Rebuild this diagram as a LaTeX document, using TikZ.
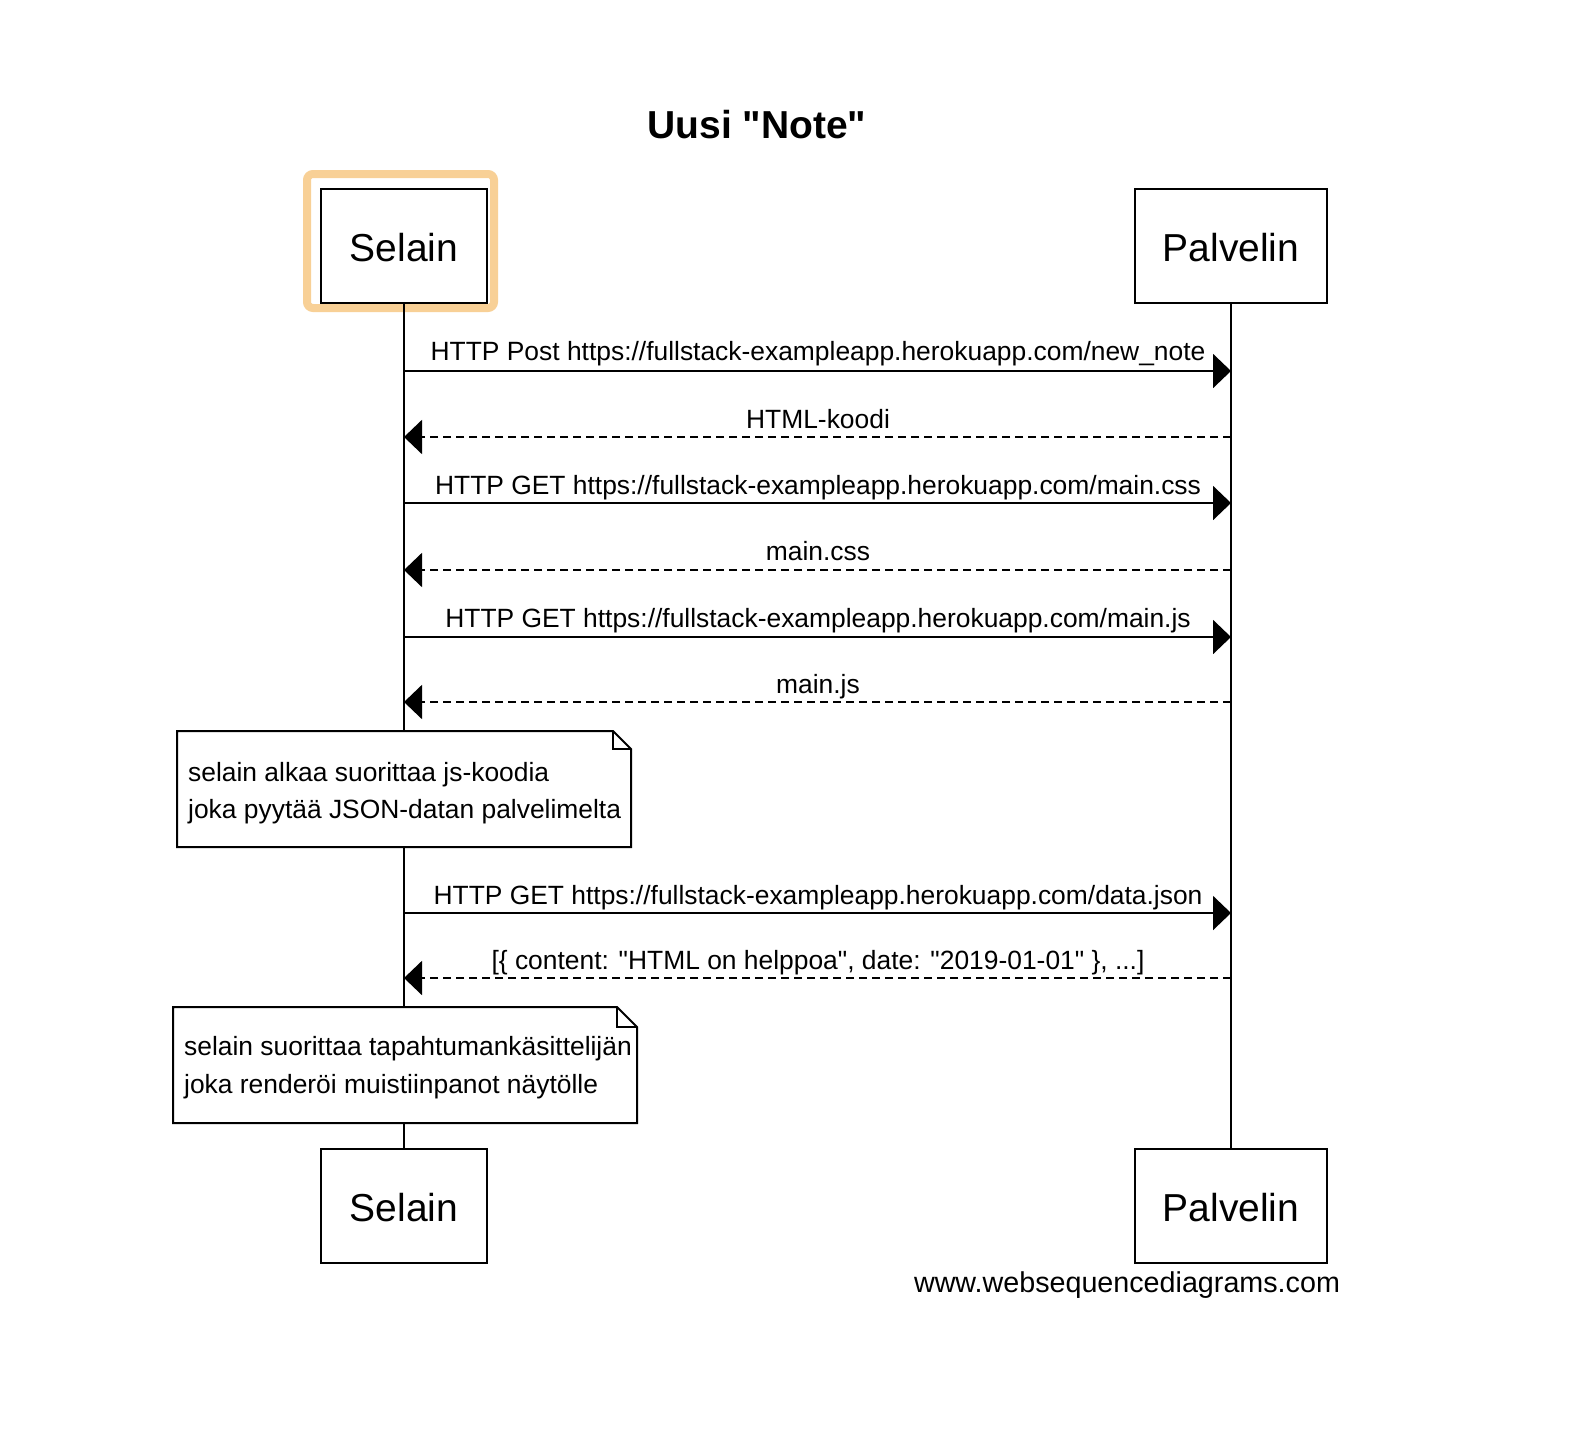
\documentclass[tikz,border=0pt]{standalone}
\usepackage{fontspec}
\setmainfont{Liberation Sans}[Ligatures=TeXOff]
\usetikzlibrary{arrows.meta}
\definecolor{hl}{RGB}{248,208,150}
\newcommand{\lowertxt}[1]{\raisebox{-2pt}[\height][\depth]{#1}}
\begin{document}
\begin{tikzpicture}[x=1pt,y=-1pt,
  party/.style={draw, line width=2pt, fill=white, minimum height=114pt, inner sep=0pt,
    font=\fontsize{39}{45}\selectfont},
  life/.style={line width=2pt},
  msg/.style={line width=2pt, -{Triangle[length=18pt,width=34pt]}},
  reply/.style={msg, dash pattern=on 8pt off 5pt},
  lbl/.style={font=\fontsize{26.4}{31}\selectfont, anchor=base, inner sep=0pt},
  notebox/.style={draw, line width=2pt, fill=white, line join=miter},
  notetext/.style={font=\fontsize{26.4}{31}\selectfont, anchor=base west, inner sep=0pt}
]
\useasboundingbox[fill=white] (0,0) rectangle (1586,1432);

% title
\node[font=\bfseries\fontsize{39}{45}\selectfont, anchor=base, inner sep=0pt] (title) at (757,138) {Uusi "Note"};

% highlight
\draw[hl, line width=8pt, rounded corners=6pt] (307,174) rectangle (494,308);

% participants
\node[party, minimum width=166pt] (selT) at (404,245.5) {\lowertxt{Selain}};
\node[party, minimum width=192pt] (palT) at (1231,245.5) {\lowertxt{Palvelin}};
\node[party, minimum width=166pt] (selB) at (404,1205.5) {\lowertxt{Selain}};
\node[party, minimum width=192pt] (palB) at (1231,1205.5) {\lowertxt{Palvelin}};

% lifelines
\draw[life] (selT.south) -- (selB.north);
\draw[life] (palT.south) -- (palB.north);

% message coordinates
\foreach \i/\y in {1/371,2/437,3/503,4/570,5/637,6/702,7/913,8/978}{
  \coordinate (s\i) at (404,\y);
  \coordinate (p\i) at (1231,\y);
}

\draw[msg] (s1) -- (p1);
\node[lbl] (l1) at (818,360) {HTTP Post https://fullstack-exampleapp.herokuapp.com/new\_note};
\draw[reply] (p2) -- (s2);
\node[lbl] (l2) at (818,428) {HTML-koodi};
\draw[msg] (s3) -- (p3);
\node[lbl] (l3) at (818,494) {HTTP GET https://fullstack-exampleapp.herokuapp.com/main.css};
\draw[reply] (p4) -- (s4);
\node[lbl] (l4) at (818,560) {main.css};
\draw[msg] (s5) -- (p5);
\node[lbl] (l5) at (818,627) {HTTP GET https://fullstack-exampleapp.herokuapp.com/main.js};
\draw[reply] (p6) -- (s6);
\node[lbl] (l6) at (818,693) {main.js};

% note 1
\draw[notebox] (177,731) -- (613,731) -- (631,749) -- (631,847) -- (177,847) -- cycle;
\draw[line width=2pt] (613,731) -- (613,749) -- (631,749);
\node[notetext] (n1a) at (188,781) {selain alkaa suorittaa js-koodia};
\node[notetext] (n1b) at (188,818) {joka pyytää JSON-datan palvelimelta};

\draw[msg] (s7) -- (p7);
\node[lbl] (l7) at (818,904) {HTTP GET https://fullstack-exampleapp.herokuapp.com/data.json};
\draw[reply] (p8) -- (s8);
\node[lbl] (l8) at (818,969) {[\{ content: "HTML on helppoa", date: "2019-01-01" \}, ...]};

% note 2
\draw[notebox] (173,1007) -- (617,1007) -- (637,1027) -- (637,1123) -- (173,1123) -- cycle;
\draw[line width=2pt] (617,1007) -- (617,1027) -- (637,1027);
\node[notetext] (n2a) at (184,1055) {selain suorittaa tapahtumankäsittelijän};
\node[notetext] (n2b) at (184,1093) {joka renderöi muistiinpanot näytölle};

% watermark
\node[font=\fontsize{28.7}{33}\selectfont, anchor=base, inner sep=0pt] (wm) at (1127,1292) {www.websequencediagrams.com};
\end{tikzpicture}
\end{document}
